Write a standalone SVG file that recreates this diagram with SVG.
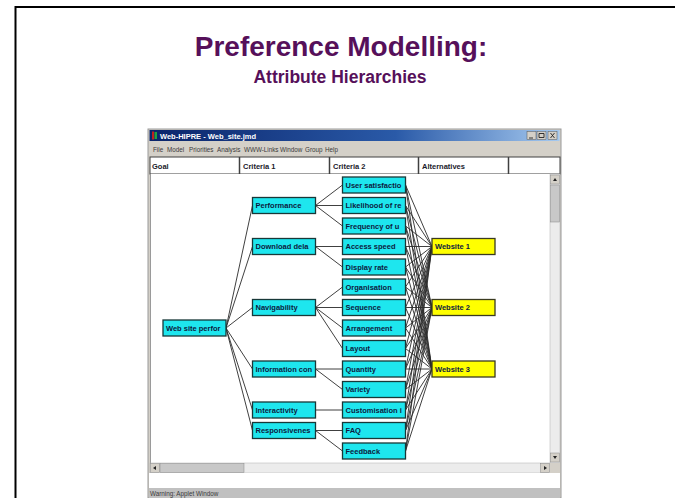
<svg xmlns="http://www.w3.org/2000/svg" width="675" height="498" viewBox="0 0 675 498">
<style>
.ttl{font-family:"Liberation Sans",Arial,sans-serif;font-weight:bold;fill:#56105a;text-anchor:middle}
.ui{font-family:"Liberation Sans",Arial,sans-serif;font-size:6.3px;fill:#3a3a3a}
.hd{font-family:"Liberation Sans",Arial,sans-serif;font-size:7.5px;font-weight:bold;fill:#1a1a2a}
.nt{font-family:"Liberation Sans",Arial,sans-serif;font-size:7.5px;font-weight:bold;fill:#0c1a40}
.c{fill:#1ee6ee;stroke:#183838;stroke-width:1.3}
.y{fill:#ffff00;stroke:#3a3a20;stroke-width:1.3}
#connectors line{stroke:#2a2a2a;stroke-width:0.9}
</style>
<defs>
<linearGradient id="tb" x1="0" y1="0" x2="1" y2="0">
<stop offset="0" stop-color="#0a246a"/><stop offset="0.6" stop-color="#2a5aa8"/><stop offset="1" stop-color="#a6caf0"/>
</linearGradient>
</defs>
<rect width="675" height="498" fill="#ffffff"/>
<!-- slide frame -->
<path d="M15.5,498 V7 H675" fill="none" stroke="#000" stroke-width="2"/>
<text class="ttl" x="341" y="56" font-size="28">Preference Modelling:</text>
<text class="ttl" x="340" y="83" font-size="17.5">Attribute Hierarchies</text>

<!-- window chrome -->
<rect x="148" y="129" width="413" height="369" fill="#d4d0c8" stroke="#9a9a9a" stroke-width="1"/>
<rect x="149.5" y="130" width="410" height="11" fill="url(#tb)"/>
<rect x="152" y="131.5" width="2" height="8" fill="#c02020"/><rect x="154.5" y="132" width="2.5" height="7" fill="#20a040"/>
<text x="160" y="138.6" font-family="Liberation Sans,Arial,sans-serif" font-size="7.5" font-weight="bold" fill="#ffffff">Web-HIPRE - Web_site.jmd</text>
<rect x="527" y="131.5" width="9" height="8" fill="#d4d0c8" stroke="#555" stroke-width="0.5"/>
<rect x="537" y="131.5" width="9" height="8" fill="#d4d0c8" stroke="#555" stroke-width="0.5"/>
<rect x="548" y="131.5" width="9" height="8" fill="#d4d0c8" stroke="#555" stroke-width="0.5"/>
<path d="M529,138 h4 M539,133.5 h5 v4 h-5 z M550.5,133 l4,5 M554.5,133 l-4,5" stroke="#222" stroke-width="0.9" fill="none"/>
<text class="ui" x="153" y="152">File</text>
<text class="ui" x="167" y="152">Model</text>
<text class="ui" x="189" y="152">Priorities</text>
<text class="ui" x="217" y="152">Analysis</text>
<text class="ui" x="244" y="152">WWW-Links</text>
<text class="ui" x="280" y="152">Window</text>
<text class="ui" x="305" y="152">Group</text>
<text class="ui" x="325" y="152">Help</text>
<rect x="150" y="157" width="410" height="17" fill="#ffffff" stroke="#404040" stroke-width="1"/>
<path d="M239.5,157 v17 M329.5,157 v17 M418.5,157 v17 M508.5,157 v17" stroke="#404040" stroke-width="1.5"/>
<text class="hd" x="152" y="168.5">Goal</text>
<text class="hd" x="243" y="168.5">Criteria 1</text>
<text class="hd" x="333" y="168.5">Criteria 2</text>
<text class="hd" x="422" y="168.5">Alternatives</text>
<rect x="150" y="174" width="400" height="289" fill="#ffffff"/>
<line x1="150.5" y1="174" x2="150.5" y2="463" stroke="#9a9a9a"/>
<!-- vertical scrollbar -->
<rect x="550" y="174" width="10" height="289" fill="#ececec" stroke="#b0b0b0" stroke-width="0.5"/>
<rect x="550.5" y="175" width="9" height="9" fill="#d4d0c8" stroke="#888" stroke-width="0.5"/>
<path d="M553,181 l2,-3 l2,3 z" fill="#222"/>
<rect x="550.5" y="185" width="9" height="37" fill="#c8c8c8" stroke="#888" stroke-width="0.5"/>
<rect x="550.5" y="453" width="9" height="9" fill="#d4d0c8" stroke="#888" stroke-width="0.5"/>
<path d="M553,456 l2,3 l2,-3 z" fill="#222"/>
<!-- horizontal scrollbar -->
<rect x="150" y="463" width="400" height="10" fill="#ececec" stroke="#b0b0b0" stroke-width="0.5"/>
<rect x="150.5" y="463.5" width="9" height="9" fill="#d4d0c8" stroke="#888" stroke-width="0.5"/>
<path d="M156,466 l-3,2 l3,2 z" fill="#222"/>
<rect x="160" y="463.5" width="84" height="9" fill="#c8c8c8" stroke="#888" stroke-width="0.5"/>
<rect x="540.5" y="463.5" width="9" height="9" fill="#d4d0c8" stroke="#888" stroke-width="0.5"/>
<path d="M544,466 l3,2 l-3,2 z" fill="#222"/>
<rect x="550" y="463" width="10" height="10" fill="#d4d0c8"/>
<rect x="149" y="473" width="411" height="15" fill="#ffffff"/>
<rect x="149" y="488" width="411" height="10" fill="#c0c0c0"/>
<text class="ui" x="150" y="496">Warning: Applet Window</text>

<!-- connectors -->
<g id="connectors">
<line x1="226" y1="328" x2="252.5" y2="205.5"/>
<line x1="226" y1="328" x2="252.5" y2="246.5"/>
<line x1="226" y1="328" x2="252.5" y2="307.5"/>
<line x1="226" y1="328" x2="252.5" y2="369"/>
<line x1="226" y1="328" x2="252.5" y2="410"/>
<line x1="226" y1="328" x2="252.5" y2="430.5"/>
<line x1="315.5" y1="205.5" x2="342.5" y2="185"/>
<line x1="315.5" y1="205.5" x2="342.5" y2="205.5"/>
<line x1="315.5" y1="205.5" x2="342.5" y2="226"/>
<line x1="315.5" y1="246.5" x2="342.5" y2="246.5"/>
<line x1="315.5" y1="246.5" x2="342.5" y2="267"/>
<line x1="315.5" y1="307.5" x2="342.5" y2="287"/>
<line x1="315.5" y1="307.5" x2="342.5" y2="307.5"/>
<line x1="315.5" y1="307.5" x2="342.5" y2="328"/>
<line x1="315.5" y1="307.5" x2="342.5" y2="348.5"/>
<line x1="315.5" y1="369" x2="342.5" y2="369"/>
<line x1="315.5" y1="369" x2="342.5" y2="389.5"/>
<line x1="315.5" y1="410" x2="342.5" y2="410"/>
<line x1="315.5" y1="430.5" x2="342.5" y2="430.5"/>
<line x1="315.5" y1="430.5" x2="342.5" y2="451"/>
<line x1="405.5" y1="185" x2="432" y2="246.5"/><line x1="405.5" y1="185" x2="432" y2="307.5"/><line x1="405.5" y1="185" x2="432" y2="369"/>
<line x1="405.5" y1="205.5" x2="432" y2="246.5"/><line x1="405.5" y1="205.5" x2="432" y2="307.5"/><line x1="405.5" y1="205.5" x2="432" y2="369"/>
<line x1="405.5" y1="226" x2="432" y2="246.5"/><line x1="405.5" y1="226" x2="432" y2="307.5"/><line x1="405.5" y1="226" x2="432" y2="369"/>
<line x1="405.5" y1="246.5" x2="432" y2="246.5"/><line x1="405.5" y1="246.5" x2="432" y2="307.5"/><line x1="405.5" y1="246.5" x2="432" y2="369"/>
<line x1="405.5" y1="267" x2="432" y2="246.5"/><line x1="405.5" y1="267" x2="432" y2="307.5"/><line x1="405.5" y1="267" x2="432" y2="369"/>
<line x1="405.5" y1="287" x2="432" y2="246.5"/><line x1="405.5" y1="287" x2="432" y2="307.5"/><line x1="405.5" y1="287" x2="432" y2="369"/>
<line x1="405.5" y1="307.5" x2="432" y2="246.5"/><line x1="405.5" y1="307.5" x2="432" y2="307.5"/><line x1="405.5" y1="307.5" x2="432" y2="369"/>
<line x1="405.5" y1="328" x2="432" y2="246.5"/><line x1="405.5" y1="328" x2="432" y2="307.5"/><line x1="405.5" y1="328" x2="432" y2="369"/>
<line x1="405.5" y1="348.5" x2="432" y2="246.5"/><line x1="405.5" y1="348.5" x2="432" y2="307.5"/><line x1="405.5" y1="348.5" x2="432" y2="369"/>
<line x1="405.5" y1="369" x2="432" y2="246.5"/><line x1="405.5" y1="369" x2="432" y2="307.5"/><line x1="405.5" y1="369" x2="432" y2="369"/>
<line x1="405.5" y1="389.5" x2="432" y2="246.5"/><line x1="405.5" y1="389.5" x2="432" y2="307.5"/><line x1="405.5" y1="389.5" x2="432" y2="369"/>
<line x1="405.5" y1="410" x2="432" y2="246.5"/><line x1="405.5" y1="410" x2="432" y2="307.5"/><line x1="405.5" y1="410" x2="432" y2="369"/>
<line x1="405.5" y1="430.5" x2="432" y2="246.5"/><line x1="405.5" y1="430.5" x2="432" y2="307.5"/><line x1="405.5" y1="430.5" x2="432" y2="369"/>
<line x1="405.5" y1="451" x2="432" y2="246.5"/><line x1="405.5" y1="451" x2="432" y2="307.5"/><line x1="405.5" y1="451" x2="432" y2="369"/>
</g>

<!-- goal -->
<g id="n-goal"><rect class="c" x="163" y="320" width="63" height="16"/><text class="nt" x="166" y="330.7">Web site perfor</text></g>
<!-- criteria 1 -->
<g id="n-performance"><rect class="c" x="252.5" y="197.5" width="63" height="16"/><text class="nt" x="255.5" y="208.2">Performance</text></g>
<g id="n-download"><rect class="c" x="252.5" y="238.5" width="63" height="16"/><text class="nt" x="255.5" y="249.2">Download dela</text></g>
<g id="n-navigability"><rect class="c" x="252.5" y="299.5" width="63" height="16"/><text class="nt" x="255.5" y="310.2">Navigability</text></g>
<g id="n-information"><rect class="c" x="252.5" y="361" width="63" height="16"/><text class="nt" x="255.5" y="371.7">Information con</text></g>
<g id="n-interactivity"><rect class="c" x="252.5" y="402" width="63" height="16"/><text class="nt" x="255.5" y="412.7">Interactivity</text></g>
<g id="n-responsiveness"><rect class="c" x="252.5" y="422.5" width="63" height="16"/><text class="nt" x="255.5" y="433.2">Responsivenes</text></g>
<!-- criteria 2 -->
<g id="n-usersat"><rect class="c" x="342.5" y="177" width="63" height="16"/><text class="nt" x="345.5" y="187.7">User satisfactio</text></g>
<g id="n-likelihood"><rect class="c" x="342.5" y="197.5" width="63" height="16"/><text class="nt" x="345.5" y="208.2">Likelihood of re</text></g>
<g id="n-frequency"><rect class="c" x="342.5" y="218" width="63" height="16"/><text class="nt" x="345.5" y="228.7">Frequency of u</text></g>
<g id="n-access"><rect class="c" x="342.5" y="238.5" width="63" height="16"/><text class="nt" x="345.5" y="249.2">Access speed</text></g>
<g id="n-display"><rect class="c" x="342.5" y="259" width="63" height="16"/><text class="nt" x="345.5" y="269.7">Display rate</text></g>
<g id="n-organisation"><rect class="c" x="342.5" y="279" width="63" height="16"/><text class="nt" x="345.5" y="289.7">Organisation</text></g>
<g id="n-sequence"><rect class="c" x="342.5" y="299.5" width="63" height="16"/><text class="nt" x="345.5" y="310.2">Sequence</text></g>
<g id="n-arrangement"><rect class="c" x="342.5" y="320" width="63" height="16"/><text class="nt" x="345.5" y="330.7">Arrangement</text></g>
<g id="n-layout"><rect class="c" x="342.5" y="340.5" width="63" height="16"/><text class="nt" x="345.5" y="351.2">Layout</text></g>
<g id="n-quantity"><rect class="c" x="342.5" y="361" width="63" height="16"/><text class="nt" x="345.5" y="371.7">Quantity</text></g>
<g id="n-variety"><rect class="c" x="342.5" y="381.5" width="63" height="16"/><text class="nt" x="345.5" y="392.2">Variety</text></g>
<g id="n-customisation"><rect class="c" x="342.5" y="402" width="63" height="16"/><text class="nt" x="345.5" y="412.7">Customisation i</text></g>
<g id="n-faq"><rect class="c" x="342.5" y="422.5" width="63" height="16"/><text class="nt" x="345.5" y="433.2">FAQ</text></g>
<g id="n-feedback"><rect class="c" x="342.5" y="443" width="63" height="16"/><text class="nt" x="345.5" y="453.7">Feedback</text></g>
<!-- alternatives -->
<g id="n-website1"><rect class="y" x="432" y="238.5" width="63" height="16"/><text class="nt" x="435" y="249.2">Website 1</text></g>
<g id="n-website2"><rect class="y" x="432" y="299.5" width="63" height="16"/><text class="nt" x="435" y="310.2">Website 2</text></g>
<g id="n-website3"><rect class="y" x="432" y="361" width="63" height="16"/><text class="nt" x="435" y="371.7">Website 3</text></g>
</svg>
